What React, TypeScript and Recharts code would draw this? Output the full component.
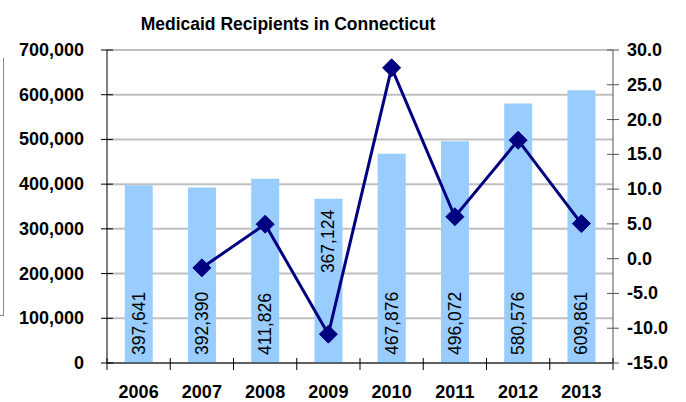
import React from "react";
import {
  ComposedChart,
  Bar,
  Line,
  XAxis,
  YAxis,
  CartesianGrid,
  LabelList,
} from "recharts";

const years = ["2006", "2007", "2008", "2009", "2010", "2011", "2012", "2013"];
const recipients = [397641, 392390, 411826, 367124, 467876, 496072, 580576, 609861];
// percent change on prior year (right axis)
const pctChange = [null, -1.32, 4.95, -10.85, 27.44, 6.03, 17.03, 5.04];
const leftTicks = [0, 100000, 200000, 300000, 400000, 500000, 600000, 700000];
const rightTicks = [-15, -10, -5, 0, 5, 10, 15, 20, 25, 30];
// label sits at top of the bar instead of the bottom
const topLabelYears = ["2009"];

const data = years.map((y, i) => ({
  year: y,
  recipients: recipients[i],
  pct: pctChange[i],
}));

const FONT = "'Liberation Sans', Arial, Helvetica, sans-serif";

const LeftTick = (props: any) => {
  const { x, y, payload } = props;
  const ax = x + 12;
  return (
    <g>
      <line x1={ax - 6} x2={ax + 6} y1={y} y2={y} stroke="#000" />
      <text x={x - 11} y={y} dy={6} textAnchor="end" fontSize={18} fontWeight="bold" fill="#000" fontFamily={FONT}>
        {payload.value.toLocaleString("en-US")}
      </text>
    </g>
  );
};

const RightTick = (props: any) => {
  const { x, y, payload } = props;
  const ax = x - 12;
  return (
    <g>
      <line x1={ax - 6} x2={ax + 6} y1={y} y2={y} stroke="#555" />
      <text x={x + 2} y={y} dy={6} textAnchor="start" fontSize={18} fontWeight="bold" fill="#000" fontFamily={FONT}>
        {Number(payload.value).toFixed(1)}
      </text>
    </g>
  );
};

const XTick = (props: any) => {
  const { x, y, payload, index } = props;
  const off = payload.offset ?? 0;
  return (
    <g>
      <line x1={x - off} x2={x - off} y1={y - 13} y2={y - 1} stroke="#000" />
      {index === years.length - 1 && (
        <line x1={x + off} x2={x + off} y1={y - 13} y2={y - 1} stroke="#000" />
      )}
      <text x={x} y={y} dy={27} textAnchor="middle" fontSize={18} fontWeight="bold" fill="#000" fontFamily={FONT}>
        {payload.value}
      </text>
    </g>
  );
};

const BarValue = (props: any) => {
  const { x, y, width, height, value, index } = props;
  const cx = x + width / 2;
  const atTop = topLabelYears.includes(years[index]);
  const ty = atTop ? y + 11 : y + height - 8;
  return (
    <text
      x={cx}
      y={ty}
      transform={`rotate(-90 ${cx} ${ty})`}
      textAnchor={atTop ? "end" : "start"}
      dy={6}
      fontSize={17.5}
      fill="#000"
      fontFamily={FONT}
    >
      {Number(value).toLocaleString("en-US")}
    </text>
  );
};

const Diamond = (props: any) => {
  const { cx, cy } = props;
  if (cx == null || cy == null || props.value == null) return <g />;
  const r = 9;
  return (
    <polygon
      points={`${cx},${cy - r} ${cx + r},${cy} ${cx},${cy + r} ${cx - r},${cy}`}
      fill="#000080"
      stroke="#000080"
    />
  );
};

export default function App() {
  return (
    <div style={{ position: "relative", width: 686, height: 402, background: "#fff", fontFamily: FONT }}>
      <style>{`body{margin:0}`}</style>
      <div
        style={{
          position: "absolute",
          left: 0,
          top: 58,
          width: 3,
          height: 257,
          borderRight: "1px solid #888",
          borderBottom: "1px solid #888",
        }}
      />
      <div
        style={{
          position: "absolute",
          left: 0,
          width: 576,
          top: 14,
          textAlign: "center",
          fontSize: 17.5,
          fontWeight: "bold",
          color: "#000",
        }}
      >
        Medicaid Recipients in Connecticut
      </div>
      <ComposedChart
        width={686}
        height={402}
        data={data}
        margin={{ top: 50, right: 0, bottom: 0, left: 0 }}
        barCategoryGap="28%"
      >
        <CartesianGrid yAxisId="left" vertical={false} horizontal stroke="#c0c0c0" strokeWidth={2} />
        <XAxis
          dataKey="year"
          height={39}
          tickLine={false}
          axisLine={{ stroke: "#000" }}
          tick={<XTick />}
          interval={0}
        />
        <YAxis
          yAxisId="left"
          width={107}
          domain={[0, 700000]}
          ticks={leftTicks}
          interval={0}
          tickLine={false}
          tickSize={6}
          tickMargin={6}
          axisLine={{ stroke: "#000" }}
          tick={<LeftTick />}
        />
        <YAxis
          yAxisId="right"
          orientation="right"
          width={73}
          domain={[-15, 30]}
          ticks={rightTicks}
          interval={0}
          tickLine={false}
          tickSize={6}
          tickMargin={6}
          axisLine={{ stroke: "#555" }}
          tick={<RightTick />}
        />
        <Bar yAxisId="left" dataKey="recipients" fill="#99ccff" isAnimationActive={false}>
          <LabelList dataKey="recipients" content={<BarValue />} />
        </Bar>
        <Line
          yAxisId="right"
          dataKey="pct"
          stroke="#000080"
          strokeWidth={3}
          dot={<Diamond />}
          activeDot={false}
          connectNulls={false}
          isAnimationActive={false}
        />
      </ComposedChart>
    </div>
  );
}
